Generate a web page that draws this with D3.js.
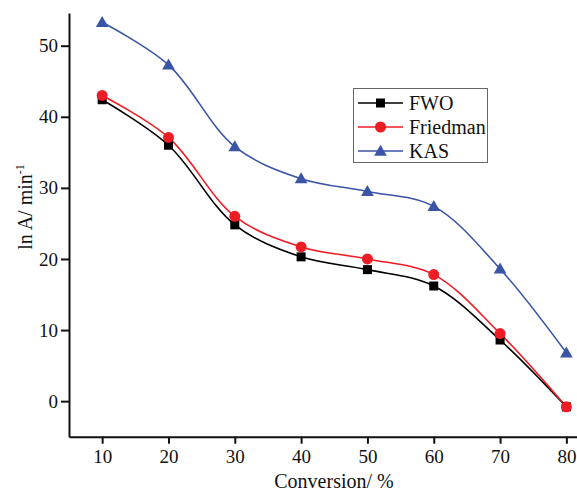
<!DOCTYPE html>
<html><head><meta charset="utf-8">
<script src="https://cdn.jsdelivr.net/npm/d3@7"></script>
<style>body{margin:0;background:#fff}svg{display:block}</style>
</head><body><svg id="c" width="577" height="492"></svg>
<script>
const conversion = [10, 20, 30, 40, 50, 60, 70, 80];
const fwo      = [42.4, 36.0, 24.8, 20.3, 18.5, 16.2, 8.6, -0.8];
const friedman = [43.0, 37.1, 26.0, 21.7, 20.0, 17.8, 9.5, -0.8];
const kas      = [53.3, 47.3, 35.8, 31.3, 29.5, 27.4, 18.6, 6.8];
const xTicks = [10, 20, 30, 40, 50, 60, 70, 80];
const yTicks = [0, 10, 20, 30, 40, 50];
const seriesNames = ["FWO", "Friedman", "KAS"];
const seriesColors = ["#000000", "#ee1c25", "#3a55a6"];
const seriesShapes = ["square", "circle", "triangle"];
const seriesValues = [fwo, friedman, kas];

const svg = d3.select("#c");
const font = "'Liberation Serif','Times New Roman',serif";
const x = d3.scaleLinear().domain([5, 81.6]).range([69, 577]);
const y = d3.scaleLinear().domain([-5, 54.6]).range([436.7, 13]);

// axes
const xAxis = svg.append("g").attr("transform", `translate(0,${y(-5)})`)
  .call(d3.axisBottom(x).tickValues(xTicks).tickSize(7).tickPadding(6).tickSizeOuter(0));
const yAxis = svg.append("g").attr("transform", `translate(${x(5)},0)`)
  .call(d3.axisLeft(y).tickValues(yTicks).tickSize(8).tickPadding(3).tickSizeOuter(0));
[xAxis, yAxis].forEach(g => {
  g.selectAll("path,line").attr("stroke", "#111").attr("stroke-width", 2);
  g.selectAll("text").attr("font-family", font).attr("font-size", 19).attr("fill", "#111");
});

svg.append("text").attr("x", 334).attr("y", 488).attr("text-anchor", "middle")
  .attr("font-family", font).attr("font-size", 20).attr("fill", "#111").text("Conversion/ %");
const yl = svg.append("text").attr("transform", "translate(32,207) rotate(-90)")
  .attr("text-anchor", "middle").attr("font-family", font).attr("font-size", 20).attr("fill", "#111");
yl.append("tspan").text("ln A/ min");
yl.append("tspan").attr("dy", -8).attr("font-size", 12).text("-1");

function marker(g, shape, cx, cy, color) {
  if (shape === "square") g.append("rect").attr("x", cx - 4.5).attr("y", cy - 4.5).attr("width", 9).attr("height", 9).attr("fill", color);
  else if (shape === "circle") g.append("circle").attr("cx", cx).attr("cy", cy).attr("r", 5.5).attr("fill", color);
  else g.append("path").attr("d", d3.symbol(d3.symbolTriangle, 70)()).attr("transform", `translate(${cx},${cy + 1})`).attr("fill", color);
}

const line = d3.line().x(d => x(d[0])).y(d => y(d[1])).curve(d3.curveCatmullRom.alpha(0.5));
seriesValues.forEach((vals, i) => {
  const pts = conversion.map((c, j) => [c, vals[j]]);
  svg.append("path").attr("d", line(pts)).attr("fill", "none")
    .attr("stroke", seriesColors[i]).attr("stroke-width", 1.6);
});
seriesValues.forEach((vals, i) => {
  const g = svg.append("g");
  conversion.forEach((c, j) => marker(g, seriesShapes[i], x(c), y(vals[j]), seriesColors[i]));
});

// legend
const lg = svg.append("g");
lg.append("rect").attr("x", 353.5).attr("y", 88.5).attr("width", 134).attr("height", 74)
  .attr("fill", "#fff").attr("stroke", "#666").attr("stroke-width", 1);
seriesNames.forEach((n, i) => {
  const yy = 103 + i * 24;
  lg.append("line").attr("x1", 358).attr("x2", 403).attr("y1", yy).attr("y2", yy)
    .attr("stroke", seriesColors[i]).attr("stroke-width", 1.6);
  marker(lg, seriesShapes[i], 380.5, yy, seriesColors[i]);
  lg.append("text").attr("x", 409).attr("y", yy + 6.5).attr("font-family", font)
    .attr("font-size", 20).attr("fill", "#111").text(n);
});
</script></body></html>
